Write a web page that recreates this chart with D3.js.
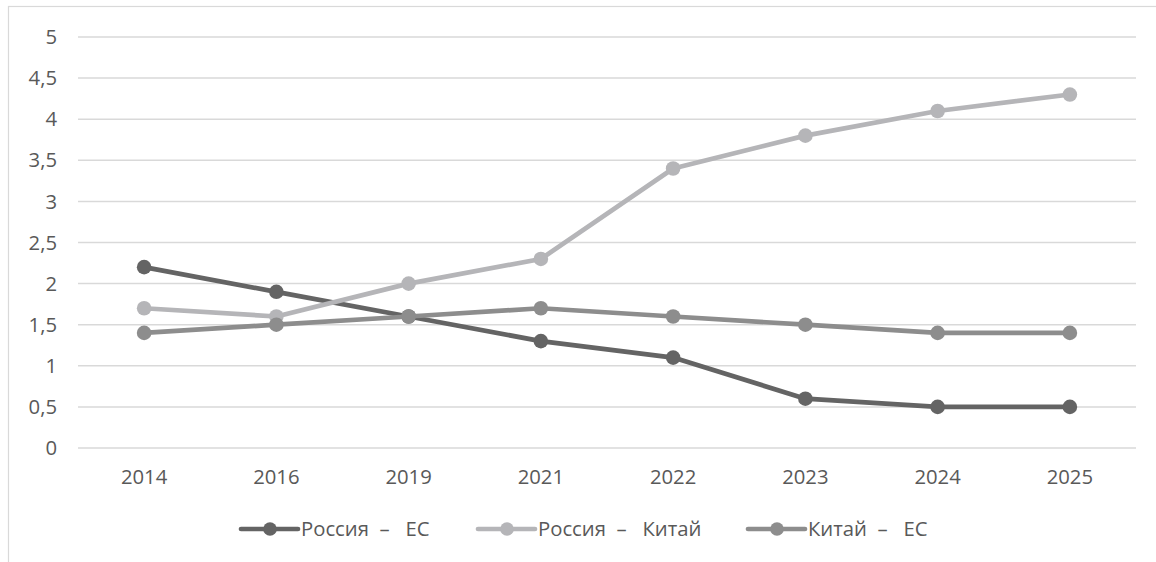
<!DOCTYPE html>
<html>
<head>
<meta charset="utf-8">
<script src="https://cdn.jsdelivr.net/npm/d3@7"></script>
<style>
  body { margin: 0; background: #fff; }
  text { font-family: "Open Sans", "Noto Sans", sans-serif; fill: #595959; white-space: pre; }
</style>
</head>
<body>
<div id="chart"></div>
<script>
// data
const years = ["2014", "2016", "2019", "2021", "2022", "2023", "2024", "2025"];
const russiaEU = [2.2, 1.9, 1.6, 1.3, 1.1, 0.6, 0.5, 0.5];
const russiaChina = [1.7, 1.6, 2.0, 2.3, 3.4, 3.8, 4.1, 4.3];
const chinaEU = [1.4, 1.5, 1.6, 1.7, 1.6, 1.5, 1.4, 1.4];
const yTicks = [0, 0.5, 1, 1.5, 2, 2.5, 3, 3.5, 4, 4.5, 5];

const series = [
  { name: "Россия  –   ЕС", values: russiaEU, color: "#646464" },
  { name: "Россия  –   Китай", values: russiaChina, color: "#b5b5b8" },
  { name: "Китай  –   ЕС", values: chinaEU, color: "#8d8d8d" }
];

const width = 1156, height = 562;
const fontSize = 20.3;

const svg = d3.select("#chart").append("svg")
  .attr("width", width)
  .attr("height", height);

// chart frame
svg.append("rect")
  .attr("x", 8.5).attr("y", 6.5)
  .attr("width", 1160).attr("height", 600)
  .attr("fill", "none")
  .attr("stroke", "#d9d9d9")
  .attr("stroke-width", 1.2);

const x = d3.scalePoint()
  .domain(years)
  .range([78, 1136])
  .padding(0.5);

const y = d3.scaleLinear()
  .domain([0, 5])
  .range([448, 37]);

// gridlines
svg.append("g")
  .selectAll("line")
  .data(yTicks)
  .enter().append("line")
  .attr("x1", 78)
  .attr("x2", 1136)
  .attr("y1", d => y(d))
  .attr("y2", d => y(d))
  .attr("stroke", "#d9d9d9")
  .attr("stroke-width", 1.5);

// y labels
const fmt = d => String(d).replace(".", ",");
svg.append("g")
  .selectAll("text")
  .data(yTicks)
  .enter().append("text")
  .attr("x", 57)
  .attr("y", d => y(d))
  .attr("dy", "0.35em")
  .attr("text-anchor", "end")
  .attr("font-size", fontSize)
  .text(fmt);

// x labels
svg.append("g")
  .selectAll("text")
  .data(years)
  .enter().append("text")
  .attr("x", d => x(d))
  .attr("y", 476.5)
  .attr("dy", "0.35em")
  .attr("text-anchor", "middle")
  .attr("font-size", fontSize)
  .text(d => d);

const line = d3.line()
  .x((d, i) => x(years[i]))
  .y(d => y(d));

series.forEach(s => {
  svg.append("path")
    .datum(s.values)
    .attr("d", line)
    .attr("fill", "none")
    .attr("stroke", s.color)
    .attr("stroke-width", 4.7)
    .attr("stroke-linejoin", "round");

  svg.append("g")
    .selectAll("circle")
    .data(s.values)
    .enter().append("circle")
    .attr("cx", (d, i) => x(years[i]))
    .attr("cy", d => y(d))
    .attr("r", 7.3)
    .attr("fill", s.color);
});

// legend
const legendX = [241, 478, 748];
const legendY = 529;
series.forEach((s, i) => {
  const g = svg.append("g").attr("transform", `translate(${legendX[i]},${legendY})`);
  g.append("line")
    .attr("x1", 0).attr("x2", 57)
    .attr("y1", 0).attr("y2", 0)
    .attr("stroke", s.color)
    .attr("stroke-width", 4.7)
    .attr("stroke-linecap", "round");
  g.append("circle")
    .attr("cx", 29).attr("cy", 0)
    .attr("r", 6.8)
    .attr("fill", s.color);
  g.append("text")
    .attr("x", 60)
    .attr("y", 0)
    .attr("dy", "0.35em")
    .attr("font-size", fontSize)
    .text(s.name);
});
</script>
</body>
</html>
